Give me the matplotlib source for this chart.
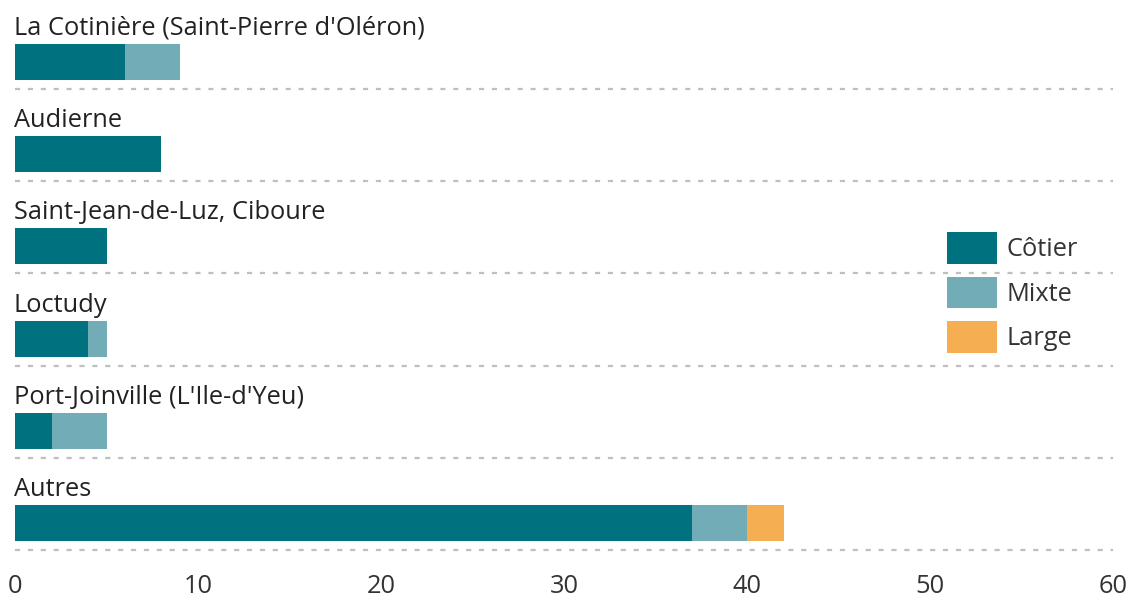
import numpy as np
import matplotlib.pyplot as plt

# donnees
ports = ["La Cotinière (Saint-Pierre d'Oléron)", "Audierne", "Saint-Jean-de-Luz, Ciboure",
         "Loctudy", "Port-Joinville (L'Ile-d'Yeu)", "Autres"]
cotier = [6, 8, 5, 4, 2, 37]
mixte = [3, 0, 0, 1, 3, 3]
large = [0, 0, 0, 0, 0, 2]

categories = ["Côtier", "Mixte", "Large"]
couleurs = ["#00717f", "#72adb7", "#f5ae52"]
xticks = [0, 10, 20, 30, 40, 50, 60]

plt.rcParams['font.family'] = ['Open Sans', 'DejaVu Sans']
taille = 18.3

fig = plt.figure(figsize=(11.3, 5.98), dpi=100)
ax = fig.add_axes([15/1130, 1 - 550/598, 1098/1130, 550/598])

y = np.arange(len(ports))
hauteur = 0.39
cotier = np.array(cotier)
mixte = np.array(mixte)
large = np.array(large)

ax.barh(y, cotier, height=hauteur, color=couleurs[0], label=categories[0])
ax.barh(y, mixte, left=cotier, height=hauteur, color=couleurs[1], label=categories[1])
ax.barh(y, large, left=cotier + mixte, height=hauteur, color=couleurs[2], label=categories[2])

for i, nom in enumerate(ports):
    ax.text(-0.08, i - 0.293, nom, fontsize=taille, color='#222222', va='baseline', ha='left')
    ax.plot([0, 60], [i + 0.293] * 2, color='#bfbfbf', lw=1.6, ls=(0, (2.3, 3.5)),
            zorder=0, clip_on=False)

ax.set_xlim(0, 60)
ax.set_ylim(5.293, -0.672)
ax.set_xticks(xticks)
ax.set_yticks([])
ax.tick_params(axis='x', length=0, pad=17, labelsize=taille, labelcolor='#333333')
for s in ax.spines.values():
    s.set_visible(False)

leg = ax.legend(loc='upper left', bbox_to_anchor=(947/1130, 1 - 232/598),
                bbox_transform=fig.transFigure, frameon=False, fontsize=taille,
                handlelength=1.95, handleheight=1.55, labelspacing=0.5,
                handletextpad=0.4, borderpad=0, borderaxespad=0)
for t in leg.get_texts():
    t.set_color('#333333')

fig.savefig('out.png', dpi=100)
